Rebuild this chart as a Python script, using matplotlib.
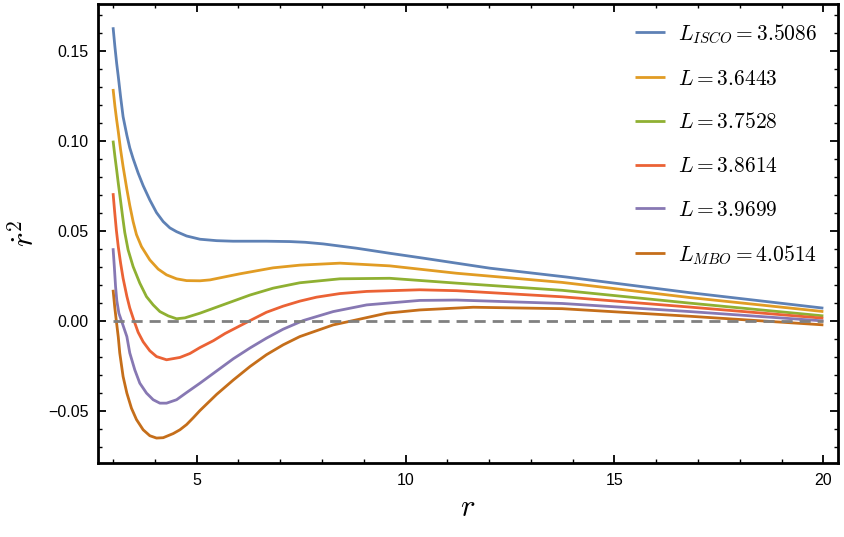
import matplotlib.pyplot as plt
from matplotlib.ticker import MultipleLocator

plt.rcParams['mathtext.fontset'] = 'cm'

# valores (r, rdot^2)
r_isco = [3.0, 3.045, 3.086, 3.125, 3.18, 3.24, 3.33, 3.40, 3.48, 3.60, 3.72, 3.88,
          4.04, 4.20, 4.36, 4.52, 4.76, 5.08, 5.48, 5.87, 6.67, 7.23, 7.60, 8.03,
          8.83, 9.62, 10.42, 12.02, 13.85, 16.8, 20.0]
y_isco = [0.163, 0.152, 0.143, 0.1356, 0.1244, 0.1133, 0.103, 0.096, 0.090, 0.082,
          0.075, 0.067, 0.060, 0.055, 0.0515, 0.0494, 0.047, 0.0452, 0.0444, 0.0441,
          0.0441, 0.0439, 0.0435, 0.0426, 0.0402, 0.0374, 0.0347, 0.0291, 0.0242,
          0.0155, 0.0069]

r_l1 = [3.0, 3.045, 3.086, 3.125, 3.18, 3.24, 3.33, 3.40, 3.48, 3.56, 3.68, 3.88,
        4.08, 4.28, 4.52, 4.76, 5.08, 5.32, 5.72, 6.04, 6.83, 7.47, 8.43, 9.62,
        11.22, 13.75, 16.8, 20.0]
y_l1 = [0.1287, 0.119, 0.1115, 0.105, 0.095, 0.0856, 0.073, 0.064, 0.055, 0.0478,
        0.0411, 0.0337, 0.0286, 0.0254, 0.0232, 0.0222, 0.0221, 0.0226, 0.0245, 0.026,
        0.0293, 0.0308, 0.0319, 0.0304, 0.0263, 0.0212, 0.0128, 0.005]

r_l2 = [3.0, 3.045, 3.086, 3.125, 3.18, 3.23, 3.28, 3.36, 3.48, 3.64, 3.80, 3.96,
        4.12, 4.32, 4.52, 4.72, 5.08, 5.40, 6.28, 6.83, 7.47, 8.43, 9.62, 11.22,
        13.75, 16.8, 20.0]
y_l2 = [0.100, 0.0911, 0.0837, 0.0763, 0.0665, 0.0575, 0.049, 0.0393, 0.030, 0.0208,
        0.0133, 0.0087, 0.005, 0.0026, 0.001, 0.0015, 0.0041, 0.0068, 0.0142, 0.018,
        0.021, 0.0232, 0.0235, 0.0208, 0.0168, 0.0097, 0.0026]

r_l3 = [3.0, 3.04, 3.08, 3.125, 3.18, 3.24, 3.33, 3.40, 3.50, 3.60, 3.72, 3.88,
        4.04, 4.28, 4.60, 4.84, 5.08, 5.40, 5.68, 6.28, 6.67, 7.07, 7.47, 7.87,
        8.43, 9.07, 10.34, 11.22, 13.75, 16.8, 20.0]
y_l3 = [0.0708, 0.060, 0.050, 0.041, 0.032, 0.0235, 0.0135, 0.007, 0.0, -0.0065,
        -0.0118, -0.0168, -0.0200, -0.0218, -0.0205, -0.0183, -0.0150, -0.0112,
        -0.0072, 0.0, 0.0046, 0.0080, 0.0108, 0.0130, 0.0150, 0.0162, 0.0171,
        0.0166, 0.0132, 0.0075, 0.0013]

r_l4 = [3.0, 3.03, 3.06, 3.09, 3.14, 3.20, 3.33, 3.40, 3.52, 3.64, 3.80, 3.96, 4.12,
        4.28, 4.52, 4.76, 5.08, 5.48, 5.88, 6.28, 6.67, 7.07, 7.55, 8.27, 9.07,
        10.34, 11.22, 12.02, 13.75, 16.8, 20.0]
y_l4 = [0.0402, 0.030, 0.0189, 0.011, 0.004, 0.0, -0.0089, -0.018, -0.0274, -0.0348,
        -0.0403, -0.044, -0.0459, -0.0459, -0.044, -0.040, -0.0348, -0.028, -0.0212,
        -0.0152, -0.0098, -0.0048, 0.0, 0.005, 0.0087, 0.0112, 0.0114, 0.0108,
        0.0095, 0.005, -0.0002]

r_mbo = [3.0, 3.04, 3.08, 3.125, 3.16, 3.24, 3.33, 3.44, 3.56, 3.72, 3.88, 4.04,
         4.20, 4.44, 4.60, 4.76, 4.92, 5.08, 5.48, 5.88, 6.28, 6.67, 7.07, 7.47,
         8.27, 8.75, 9.55, 10.34, 11.62, 13.75, 16.8, 20.0]
y_mbo = [0.0171, 0.0075, -0.0005, -0.0092, -0.018, -0.0311, -0.0403, -0.0487, -0.055,
         -0.0607, -0.064, -0.0653, -0.0651, -0.0628, -0.0607, -0.0578, -0.054, -0.0500,
         -0.041, -0.033, -0.0255, -0.019, -0.0135, -0.0089, -0.0024, 0.0, 0.0041,
         0.0059, 0.0074, 0.0066, 0.0024, -0.0024]

etiquetas = [r'$L_{ISCO} = 3.5086$', r'$L = 3.6443$', r'$L = 3.7528$',
             r'$L = 3.8614$', r'$L = 3.9699$', r'$L_{MBO} = 4.0514$']
colores = ['#5E81B5', '#E19C24', '#8FB032', '#EB6235', '#8778B3', '#C56E1A']

curvas = [(r_isco, y_isco), (r_l1, y_l1), (r_l2, y_l2),
          (r_l3, y_l3), (r_l4, y_l4), (r_mbo, y_mbo)]

fig = plt.figure(figsize=(8.45, 5.37), dpi=100)
ax = fig.add_axes([0.116, 0.138, 0.8757, 0.8548])

for (r, y), c, lab in zip(curvas, colores, etiquetas):
    ax.plot(r, y, color=c, lw=2.0, label=lab, solid_capstyle='butt',
            solid_joinstyle='round')

# línea de cero discontinua
ax.plot([3.0, 20.0], [0.0, 0.0], color='#808080', lw=2.0, ls=(0, (4, 2.5)))

ax.set_xlim(2.64, 20.35)
ax.set_ylim(-0.0791, 0.176)

ax.xaxis.set_minor_locator(MultipleLocator(1))
ax.yaxis.set_minor_locator(MultipleLocator(0.01))
ax.set_xticks([5, 10, 15, 20])
ax.set_xticklabels(['5', '10', '15', '20'])
ax.set_yticks([-0.05, 0.0, 0.05, 0.10, 0.15])
ax.set_yticklabels(['\u22120.05', '0.00', '0.05', '0.10', '0.15'])

ax.tick_params(which='both', direction='in', top=True, right=True,
               labelsize=11.5, pad=7)
ax.tick_params(which='major', length=6, width=1.3)
ax.tick_params(which='minor', length=3, width=1.0)
for t in ax.xaxis.get_ticklines(minor=False)[1::2] + ax.yaxis.get_ticklines(minor=False)[1::2]:
    t.set_color('#b0b0b0')
for t in ax.xaxis.get_ticklines(minor=True)[1::2] + ax.yaxis.get_ticklines(minor=True)[1::2]:
    t.set_color('#b0b0b0')
for lbl in ax.get_xticklabels() + ax.get_yticklabels():
    lbl.set_family('Liberation Sans')

for s in ax.spines.values():
    s.set_linewidth(2.0)

ax.set_xlabel(r'$r$', fontsize=22, labelpad=4)
ax.set_ylabel(r'$\dot{r}^2$', fontsize=22, labelpad=6)

ax.legend(loc='upper right', frameon=False, fontsize=15.5, handlelength=1.4,
          labelspacing=1.1, borderaxespad=0.45, handletextpad=0.6,
          bbox_to_anchor=(0.996, 1.0))

fig.savefig('out.png', dpi=100)
